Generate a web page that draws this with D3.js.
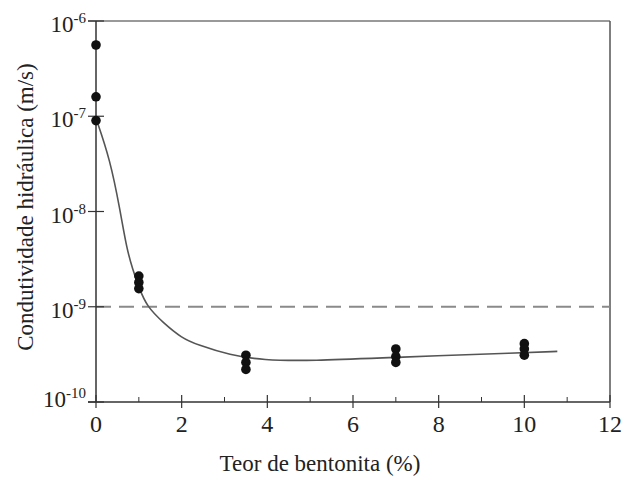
<!DOCTYPE html>
<html>
<head>
<meta charset="utf-8">
<script src="https://cdn.jsdelivr.net/npm/d3@7"></script>
<style>
  body { margin: 0; background: #fff; }
  svg text { font-family: "Liberation Serif", "Times New Roman", "DejaVu Serif", serif !important; fill: #222; }
</style>
</head>
<body>
<svg id="chart" width="627" height="482"></svg>
<script>
// measured points (bentonite %, k in m/s)
var ptX = [0, 0, 0, 1, 1, 1, 3.5, 3.5, 3.5, 7, 7, 7, 10, 10, 10];
var ptK = [5.6e-7, 1.6e-7, 9e-8, 2.1e-9, 1.8e-9, 1.55e-9, 3.1e-10, 2.6e-10, 2.2e-10,
           3.6e-10, 3.0e-10, 2.6e-10, 4.1e-10, 3.6e-10, 3.1e-10];

// fitted trend curve
var fitX = [0, 0.33, 0.56, 0.72, 0.86, 1.0, 1.19, 1.57, 2.0, 2.36, 3.13, 3.9, 5, 7, 10, 10.77];
var fitK = [9.5e-8, 3.5e-8, 1.05e-8, 4e-9, 2.45e-9, 1.6e-9, 1e-9, 6.8e-10, 4.7e-10, 4.0e-10,
            3.1e-10, 2.75e-10, 2.7e-10, 2.95e-10, 3.3e-10, 3.4e-10];

var limitK = 1e-9; // dashed limit line

var xTicks = [0, 2, 4, 6, 8, 10, 12];
var xMinor = [1, 3, 5, 7, 9, 11];
var yExps = [-6, -7, -8, -9, -10];

var svg = d3.select("#chart");

var x = d3.scaleLinear().domain([0, 12]).range([96, 610]);
var y = d3.scaleLog().domain([1e-10, 1e-6]).range([402, 21]);

// frame (top + right)
svg.append("line").attr("x1", 88).attr("x2", 610).attr("y1", 21).attr("y2", 21)
    .style("stroke", "#777").style("stroke-width", 1.5);
svg.append("line").attr("x1", 610).attr("x2", 610).attr("y1", 21).attr("y2", 402)
    .style("stroke", "#555").style("stroke-width", 1.5);

// dashed 1e-9 line
svg.append("line")
    .attr("x1", x(0)).attr("x2", x(12))
    .attr("y1", y(limitK)).attr("y2", y(limitK))
    .style("stroke", "#8a8a8a").style("stroke-width", 2.2)
    .style("stroke-dasharray", "15,8");

// axes lines
svg.append("line").attr("x1", x(0)).attr("x2", x(0)).attr("y1", 21).attr("y2", 402)
    .style("stroke", "#333").style("stroke-width", 1.5);
svg.append("line").attr("x1", 88).attr("x2", 610).attr("y1", 402).attr("y2", 402)
    .style("stroke", "#333").style("stroke-width", 1.5);

// y ticks
yExps.forEach(function(e) {
    var v = Math.pow(10, e);
    svg.append("line").attr("x1", 88).attr("x2", 104).attr("y1", y(v)).attr("y2", y(v))
        .style("stroke", "#333").style("stroke-width", 1.2);
    if (e > -6) {
        for (var m = 2; m <= 9; m++) {
            var mv = m * Math.pow(10, e);
            svg.append("line").attr("x1", 96).attr("x2", 103)
                .attr("y1", y(mv)).attr("y2", y(mv))
                .style("stroke", "#333").style("stroke-width", 1);
        }
    }
    var t = svg.append("text")
        .attr("x", 86).attr("y", y(v) + (e == -10 ? 5 : 11))
        .attr("text-anchor", "end")
        .style("font-size", "23px");
    t.append("tspan").text("10");
    t.append("tspan").attr("dy", -9).style("font-size", "15px").text(String(e));
});

// x ticks
xTicks.forEach(function(d) {
    svg.append("line").attr("x1", x(d)).attr("x2", x(d)).attr("y1", 395).attr("y2", 408)
        .style("stroke", "#333").style("stroke-width", 1.2);
    svg.append("text").attr("x", x(d)).attr("y", 432)
        .attr("text-anchor", "middle").style("font-size", "24px").text(d);
});
xMinor.forEach(function(d) {
    svg.append("line").attr("x1", x(d)).attr("x2", x(d)).attr("y1", 397).attr("y2", 402)
        .style("stroke", "#333").style("stroke-width", 1);
});

// fit curve
var line = d3.line()
    .x(function(d, i) { return x(fitX[i]); })
    .y(function(d, i) { return y(fitK[i]); })
    .curve(d3.curveBasis);
svg.append("path").datum(fitX)
    .attr("d", line)
    .style("fill", "none").style("stroke", "#555").style("stroke-width", 1.6);

// data points
svg.selectAll("circle.pt").data(ptX).enter().append("circle")
    .attr("class", "pt")
    .attr("cx", function(d) { return x(d); })
    .attr("cy", function(d, i) { return y(ptK[i]); })
    .attr("r", 4.8)
    .style("fill", "#111");

// labels
svg.append("text").attr("x", 320).attr("y", 471).attr("text-anchor", "middle")
    .style("font-size", "23px").text("Teor de bentonita (%)");
svg.append("text")
    .attr("transform", "translate(33,207) rotate(-90)")
    .attr("text-anchor", "middle")
    .style("font-size", "23px").text("Condutividade hidráulica (m/s)");
</script>
</body>
</html>
